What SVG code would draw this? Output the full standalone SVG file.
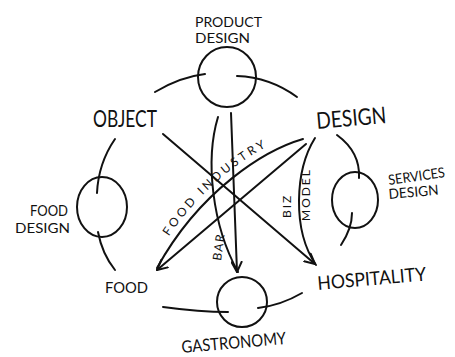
<svg xmlns="http://www.w3.org/2000/svg" width="455" height="357" viewBox="0 0 455 357">
<defs>
<style>
.ln{fill:none;stroke:#111;stroke-width:2;stroke-linecap:round;stroke-linejoin:round}
.t{font-family:Lato,"Liberation Sans",Arial,sans-serif;font-weight:400;fill:#111;}
</style>
<marker id="ah" viewBox="0 0 12 12" refX="11" refY="6" markerWidth="12" markerHeight="12" markerUnits="userSpaceOnUse" orient="auto">
<path d="M1,1 L11,6 L1,11" fill="none" stroke="#111" stroke-width="2" stroke-linecap="round" stroke-linejoin="round"/>
</marker>
<path id="fip" d="M153,262 C196,184 261,144 299,133"/>
</defs>
<rect width="455" height="357" fill="#fff"/>

<g id="connectors">
<path class="ln" d="M155,92 C170,83 188,76 205,74"/>
<path class="ln" d="M237,76 C262,77 282,86 297,97"/>
<path class="ln" d="M115,139 C104,155 98,172 97,193"/>
<path class="ln" d="M98,232 C101,248 107,260 115,270"/>
<path class="ln" d="M337,135 C352,146 360,160 359,178"/>
<path class="ln" d="M352,213 C352,226 347,236 341,245"/>
<path class="ln" d="M163,307 C185,310 207,312 228,312"/>
<path class="ln" d="M258,308 C275,306 290,300 302,293"/>
<path class="ln" d="M163,134 L315,264" marker-end="url(#ah)"/>
<path class="ln" d="M315,138 C295,170 292,230 316,265"/>
<path class="ln" d="M306,144 L157,270" marker-end="url(#ah)"/>
<path class="ln" d="M303,139 C265,150 200,190 157,268"/>
<path class="ln" d="M218,117 C205,160 212,225 238,272"/>
<path class="ln" d="M231,113 L237,272" marker-end="url(#ah)"/>
</g>

<g id="product-design">
<ellipse class="ln" cx="227" cy="77" rx="29" ry="30"/>
<text class="t" x="195" y="27" font-size="14" textLength="67" lengthAdjust="spacingAndGlyphs">PRODUCT</text>
<text class="t" x="195" y="43" font-size="14" textLength="55" lengthAdjust="spacingAndGlyphs">DESIGN</text>
</g>

<g id="object">
<text class="t" x="93" y="127" font-size="23" textLength="64" lengthAdjust="spacingAndGlyphs">OBJECT</text>
</g>

<g id="design">
<text class="t" x="317" y="129" font-size="23" textLength="70" lengthAdjust="spacingAndGlyphs" transform="rotate(-5 317 129)">DESIGN</text>
</g>

<g id="food-design">
<ellipse class="ln" cx="102" cy="207" rx="25" ry="30"/>
<text class="t" x="30" y="216" font-size="15" textLength="38" lengthAdjust="spacingAndGlyphs">FOOD</text>
<text class="t" x="15" y="233" font-size="14" textLength="55" lengthAdjust="spacingAndGlyphs">DESIGN</text>
</g>

<g id="services-design">
<ellipse class="ln" cx="355" cy="200" rx="23" ry="28"/>
<text class="t" x="389" y="185" font-size="14" textLength="57" lengthAdjust="spacingAndGlyphs" transform="rotate(-8 389 185)">SERVICES</text>
<text class="t" x="389" y="199" font-size="14" textLength="50" lengthAdjust="spacingAndGlyphs" transform="rotate(-5 389 199)">DESIGN</text>
</g>

<g id="food">
<text class="t" x="105" y="293" font-size="15" textLength="43" lengthAdjust="spacingAndGlyphs">FOOD</text>
</g>

<g id="hospitality">
<text class="t" x="318" y="290" font-size="19" textLength="109" lengthAdjust="spacingAndGlyphs" transform="rotate(-5 318 290)">HOSPITALITY</text>
</g>

<g id="gastronomy">
<circle class="ln" cx="242" cy="302" r="25"/>
<text class="t" x="182" y="353" font-size="17" textLength="105" lengthAdjust="spacingAndGlyphs" transform="rotate(-5 182 353)">GASTRONOMY</text>
</g>

<g id="edge-labels">
<text class="t" font-size="12" letter-spacing="3"><textPath href="#fip" startOffset="30">FOOD INDUSTRY</textPath></text>
<text class="t" x="0" y="0" font-size="12" letter-spacing="1.5" transform="translate(221 261) rotate(-82)">BAR</text>
<text class="t" x="0" y="0" font-size="12" letter-spacing="2" transform="translate(291 218) rotate(-90)">BIZ</text>
<text class="t" x="0" y="0" font-size="12" letter-spacing="2" transform="translate(310 221) rotate(-90)">MODEL</text>
</g>
</svg>
